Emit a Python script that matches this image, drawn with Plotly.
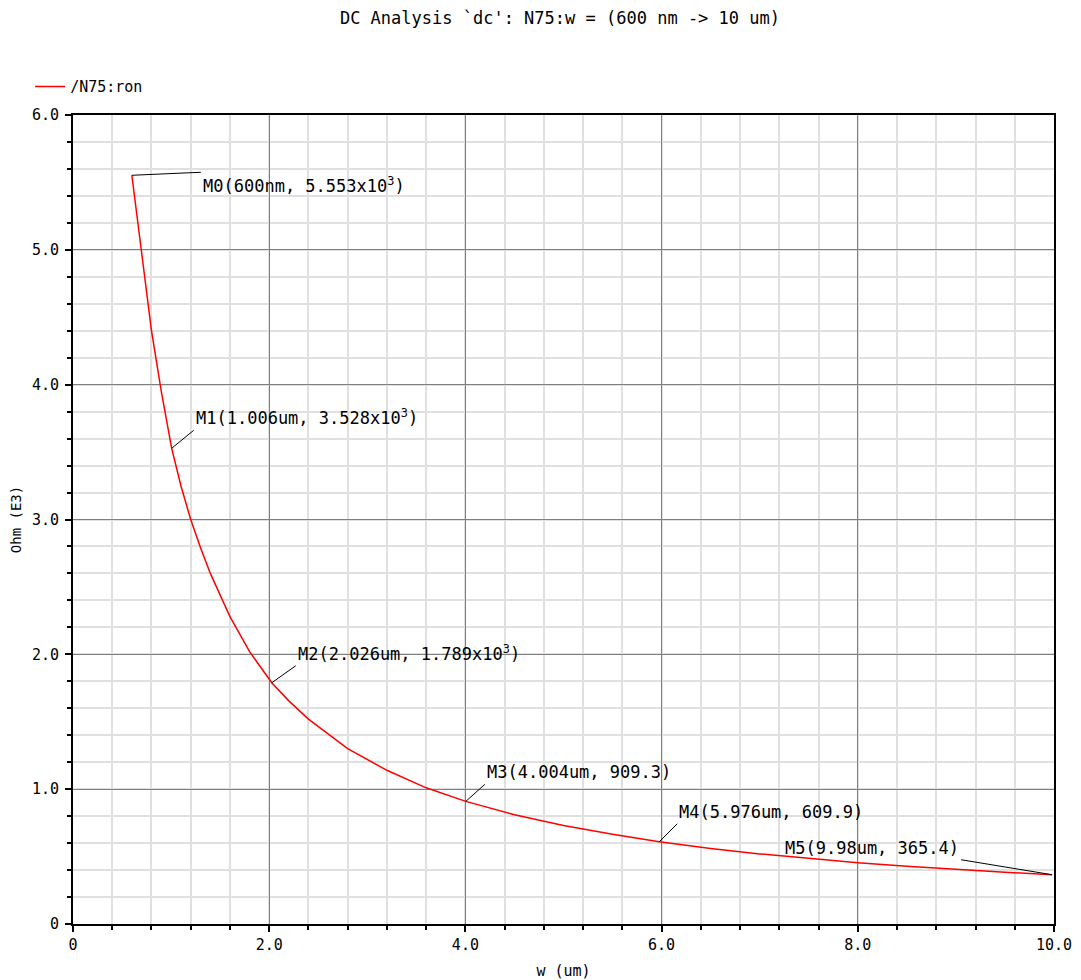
import plotly.graph_objects as go

# ---- data ----
w_um = [0.6, 0.7, 0.8, 0.9, 1.006, 1.1, 1.2, 1.3, 1.4, 1.6, 1.8, 2.026, 2.2, 2.4,
        2.8, 3.2, 3.6, 4.004, 4.5, 5.0, 5.5, 5.976, 6.5, 7.0, 7.5, 8.0, 8.5, 9.0,
        9.5, 9.98]
ron_k = [5.553, 4.96, 4.40, 3.95, 3.528, 3.25, 3.00, 2.79, 2.60, 2.28, 2.02, 1.789,
         1.655, 1.52, 1.30, 1.14, 1.01, 0.9093, 0.81, 0.73, 0.665, 0.6099, 0.56,
         0.52, 0.485, 0.455, 0.428, 0.404, 0.384, 0.3654]

marker_names = ["M0", "M1", "M2", "M3", "M4", "M5"]
marker_w = [0.6, 1.006, 2.026, 4.004, 5.976, 9.98]
marker_r = [5.553, 3.528, 1.789, 0.9093, 0.6099, 0.3654]
marker_text = ["M0(600nm, 5.553x10<sup>3</sup>)",
               "M1(1.006um, 3.528x10<sup>3</sup>)",
               "M2(2.026um, 1.789x10<sup>3</sup>)",
               "M3(4.004um, 909.3)",
               "M4(5.976um, 609.9)",
               "M5(9.98um, 365.4)"]

x_ticks = [0, 2, 4, 6, 8, 10]
x_ticktext = ["0", "2.0", "4.0", "6.0", "8.0", "10.0"]
y_ticks = [0, 1, 2, 3, 4, 5, 6]
y_ticktext = ["0", "1.0", "2.0", "3.0", "4.0", "5.0", "6.0"]

title_text = "DC Analysis `dc': N75:w = (600 nm -> 10 um)"
series_name = "/N75:ron"

# ---- styling / layout ----
FONT = "DejaVu Sans Mono"
label_offsets = [(69, -3, "left", "top"), (22, -18, "left", "bottom"),
                 (24, -17, "left", "bottom"), (19, -17, "left", "bottom"),
                 (18, -18, "left", "bottom"), (-91, -15, "right", "bottom")]

fig = go.Figure()
fig.add_trace(go.Scatter(x=w_um, y=ron_k, mode="lines", name=series_name,
                         line=dict(color="#ff0000", width=1.5), showlegend=True))

for nm, xw, yr, txt, (ax, ay, xa, ya) in zip(marker_names, marker_w, marker_r,
                                             marker_text, label_offsets):
    fig.add_annotation(x=xw, y=yr, text=txt, showarrow=True, arrowhead=0,
                       arrowwidth=1, arrowcolor="black", ax=ax, ay=ay,
                       xanchor=xa, yanchor=ya, borderpad=1,
                       font=dict(family=FONT, size=17, color="black"))

axis_common = dict(showline=True, linecolor="black", linewidth=2, mirror=True,
                   ticks="outside", ticklen=6, tickwidth=1.5, tickcolor="black",
                   showgrid=True, gridcolor="#7f7f7f", gridwidth=1,
                   zeroline=False, automargin=False,
                   tickfont=dict(family=FONT, size=15, color="black"))

fig.update_xaxes(range=[0, 10], tickvals=x_ticks, ticktext=x_ticktext,
                 minor=dict(dtick=0.4, ticks="outside", ticklen=4, tickcolor="black",
                            showgrid=True, gridcolor="#e0e0e0", gridwidth=1.5),
                 title=dict(text="w (um)", font=dict(family=FONT, size=15, color="black"),
                            standoff=12),
                 **axis_common)
fig.update_yaxes(range=[0, 6], tickvals=y_ticks, ticktext=y_ticktext,
                 ticklabelstandoff=3,
                 minor=dict(dtick=0.2, ticks="outside", ticklen=4, tickcolor="black",
                            showgrid=True, gridcolor="#e0e0e0", gridwidth=1.5),
                 title=dict(text="Ohm (E3)", font=dict(family=FONT, size=14, color="black"),
                            standoff=14),
                 **axis_common)

fig.update_layout(
    width=1073, height=972,
    margin=dict(l=65, r=27, t=107, b=56),
    paper_bgcolor="white", plot_bgcolor="white",
    title=dict(text=title_text, x=0.5144, xanchor="center", y=0.9897, yanchor="middle",
               font=dict(family=FONT, size=17, color="black")),
    legend=dict(orientation="h", x=-0.0437, xanchor="left", y=1.035, yanchor="middle",
                font=dict(family=FONT, size=15, color="black"),
                bgcolor="rgba(0,0,0,0)", itemwidth=30),
    showlegend=True,
)

fig.write_html("out.html")
